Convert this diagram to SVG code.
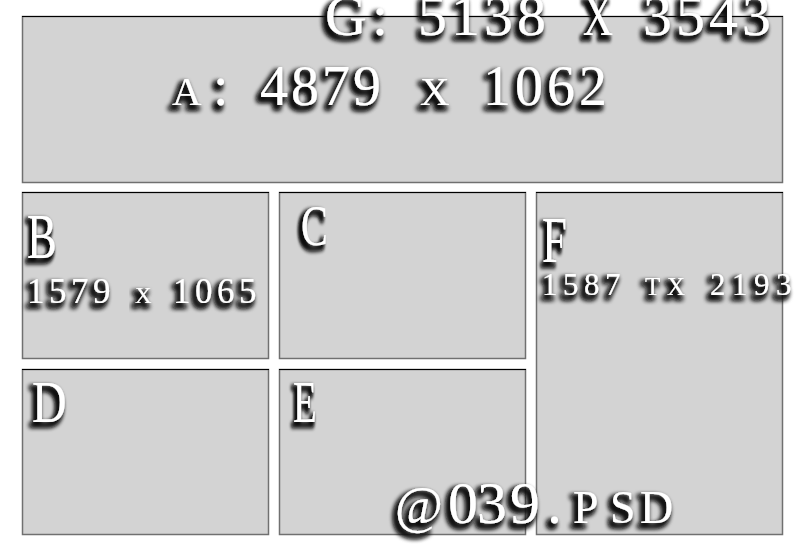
<svg xmlns="http://www.w3.org/2000/svg" width="800" height="552" viewBox="0 0 800 552">
<defs>
<filter id="sh" x="-30%" y="-30%" width="160%" height="170%">
<feMorphology in="SourceAlpha" operator="dilate" radius="1.3" result="d"/>
<feGaussianBlur in="d" stdDeviation="2.4" result="b"/>
<feOffset in="b" dx="-3.5" dy="3.5" result="o"/>
<feFlood flood-color="#111"/>
<feComposite in2="o" operator="in" result="s"/>
<feMerge><feMergeNode in="s"/><feMergeNode in="s"/><feMergeNode in="SourceGraphic"/></feMerge>
</filter>
</defs>
<style>
.box{fill:#d3d3d3;stroke:#707070;stroke-width:1.5}
.top{stroke:#000;stroke-width:1.2}
text{font-family:"Liberation Serif","Times New Roman",serif;fill:#fff;filter:url(#sh)}
</style>
<rect width="800" height="552" fill="#fff"/>
<g id="node-A">
<rect class="box" x="22.5" y="16.5" width="760" height="166"/>
<line class="top" x1="22" y1="16.5" x2="783" y2="16.5"/>
<text font-size="41" x="172" y="105">A</text>
<text font-size="56" x="213" y="105">:</text>
<text font-size="56" x="260 291 322 353" y="105">4879</text>
<text font-size="41" x="420" y="105">X</text>
<text font-size="56" x="483 515 547 579" y="105">1062</text>
</g>
<g id="node-B">
<rect class="box" x="22.5" y="192.5" width="246" height="166"/>
<line class="top" x1="22" y1="192.5" x2="269" y2="192.5"/>
<text font-size="64" transform="translate(27,258) scale(0.7,1)">B</text>
<text font-size="35" x="27 49 71 93" y="303">1579</text>
<text font-size="23" x="135" y="303">X</text>
<text font-size="35" x="173 195 217 239" y="303">1065</text>
</g>
<g id="node-C">
<rect class="box" x="279.5" y="192.5" width="246" height="166"/>
<line class="top" x1="279" y1="192.5" x2="526" y2="192.5"/>
<text font-size="56" transform="translate(301,245) scale(0.72,1)">C</text>
</g>
<g id="node-D">
<rect class="box" x="22.5" y="369.5" width="246" height="165"/>
<line class="top" x1="22" y1="369.5" x2="269" y2="369.5"/>
<text font-size="60" transform="translate(32,422) scale(0.8,1)">D</text>
</g>
<g id="node-E">
<rect class="box" x="279.5" y="369.5" width="246" height="165"/>
<line class="top" x1="279" y1="369.5" x2="526" y2="369.5"/>
<text font-size="60" transform="translate(293,422) scale(0.65,1)">E</text>
</g>
<g id="node-F">
<rect class="box" x="536.5" y="192.5" width="246" height="342"/>
<line class="top" x1="536" y1="192.5" x2="783" y2="192.5"/>
<text font-size="66" transform="translate(542,262) scale(0.68,1)">F</text>
<text font-size="31" x="542 563 584 605" y="295">1587</text>
<text font-size="25" x="645 667" y="295">TX</text>
<text font-size="31" x="710 732 754 776" y="295">2193</text>
</g>
<g id="label-G">
<text font-size="58" x="325" y="35">G</text>
<text font-size="58" x="372" y="35">:</text>
<text font-size="58" x="418 451 484 517" y="35">5138</text>
<text font-size="58" transform="translate(583,35) scale(0.72,1)">X</text>
<text font-size="58" x="643 676 709 742" y="35">3543</text>
</g>
<g id="label-file">
<text font-size="52" x="395" y="523">@</text>
<text font-size="60" x="448 477 510" y="523">039</text>
<text font-size="60" x="547" y="523">.</text>
<text font-size="46" x="573 610 640" y="523">PSD</text>
</g>
<g id="connectors"/>
</svg>
